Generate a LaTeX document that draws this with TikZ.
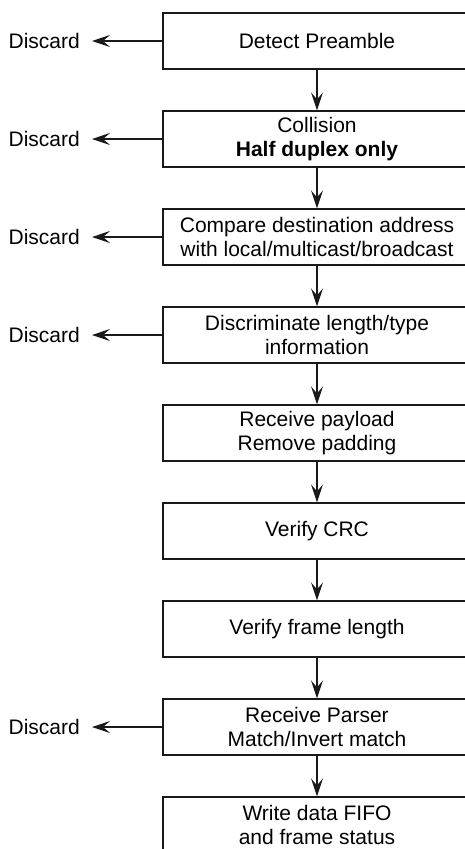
\documentclass[tikz,border=0pt]{standalone}
\usepackage{fontspec}
\setmainfont{Liberation Sans}
\usepackage{tikz}
\usetikzlibrary{positioning,arrows.meta}
\definecolor{flowInk}{HTML}{1A1A1A}

\begin{document}
\begin{tikzpicture}[x=1pt, y=1pt,
    stage/.style={draw=flowInk, line width=1.2pt, minimum width=308pt, minimum height=56pt,
      inner sep=3pt, align=center, font=\fontsize{21}{24}\selectfont},
    discard/.style={inner sep=0pt, anchor=east, font=\fontsize{21}{24}\selectfont},
    flow/.style={draw=flowInk, line width=1.2pt, -{Stealth[length=18pt, width=12pt, inset=7pt]}},
    node distance=40.8pt]
  % Page frame
  \useasboundingbox (0,0) rectangle (465,-849);
  \clip (0,0) rectangle (465,-849);

  % Receive stages
  \node[stage] (pre) at (317,-41) {Detect Preamble};
  \node[stage, below=of pre] (col) {Collision\\ \textbf{Half duplex only}};
  \node[stage, below=of col] (addr) {Compare destination address\\ with local/multicast/broadcast};
  \node[stage, below=of addr] (len) {Discriminate length/type\\ information};
  \node[stage, below=of len] (pay) {Receive payload\\ Remove padding};
  \node[stage, below=of pay] (crc) {Verify CRC};
  \node[stage, below=of crc] (flen) {Verify frame length};
  \node[stage, below=of flen] (parse) {Receive Parser\\ Match/Invert match};
  \node[stage, below=of parse] (fifo) {Write data FIFO\\ and frame status};

  % Discard labels
  \node[discard] (dpre) at (80,0 |- pre.west) {Discard};
  \node[discard] (dcol) at (80,0 |- col.west) {Discard};
  \node[discard] (daddr) at (80,0 |- addr.west) {Discard};
  \node[discard] (dlen) at (80,0 |- len.west) {Discard};
  \node[discard] (dparse) at (80,0 |- parse.west) {Discard};

  % Main flow
  \draw[flow] (pre) -- (col);
  \draw[flow] (col) -- (addr);
  \draw[flow] (addr) -- (len);
  \draw[flow] (len) -- (pay);
  \draw[flow] (pay) -- (crc);
  \draw[flow] (crc) -- (flen);
  \draw[flow] (flen) -- (parse);
  \draw[flow] (parse) -- (fifo);

  % Rejects
  \draw[flow, shorten >=12pt] (pre.west) -- (dpre.east);
  \draw[flow, shorten >=12pt] (col.west) -- (dcol.east);
  \draw[flow, shorten >=12pt] (addr.west) -- (daddr.east);
  \draw[flow, shorten >=12pt] (len.west) -- (dlen.east);
  \draw[flow, shorten >=12pt] (parse.west) -- (dparse.east);
\end{tikzpicture}
\end{document}
